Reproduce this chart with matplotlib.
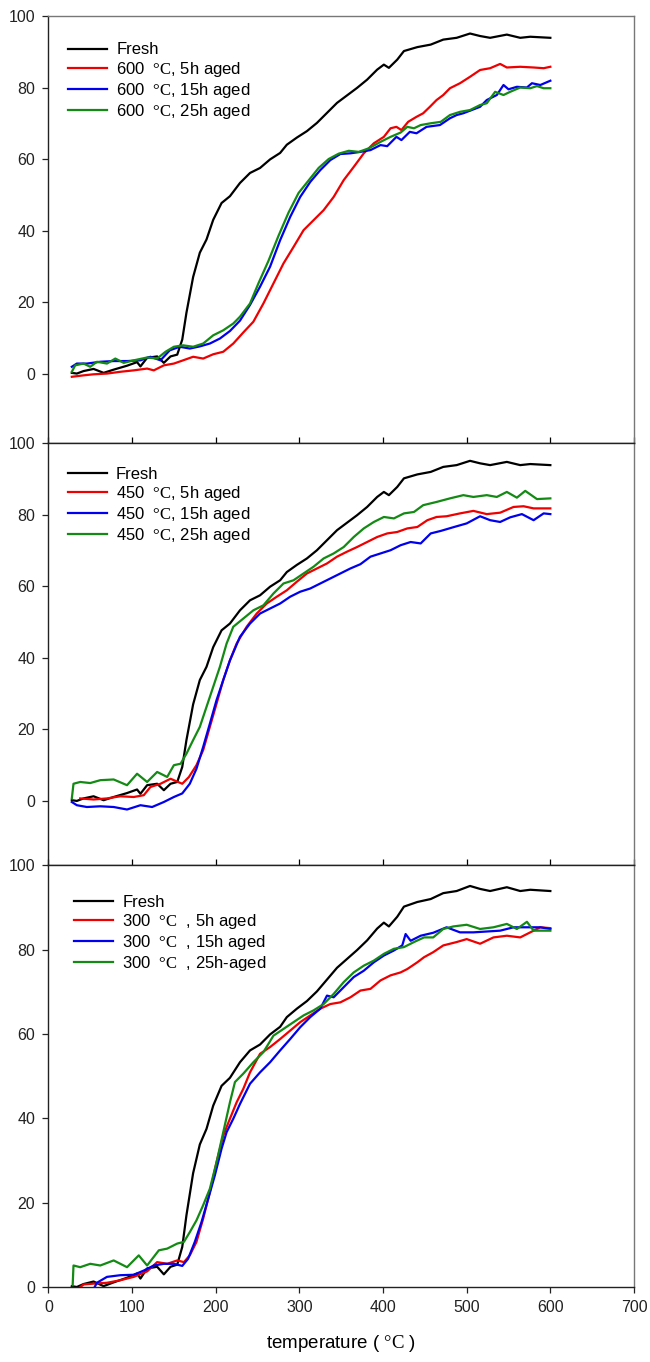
import matplotlib.pyplot as plt

plt.rcParams["font.family"] = ["Liberation Sans", "DejaVu Sans"]
plt.rcParams["mathtext.fontset"] = "custom"
plt.rcParams["mathtext.rm"] = "Liberation Serif"

# Fresh catalyst (same run shown in every panel)
fresh_t = [28, 34, 42, 54, 66, 78, 94, 106, 110, 118, 130, 138, 146, 154, 160, 165, 173, 181, 189, 197,
           207, 217, 229, 241, 253, 265, 277, 285, 297, 309, 321, 333, 345, 357, 369, 381, 393, 401, 407, 417,
           425, 441, 457, 472, 488, 504, 516, 528, 548, 564, 576, 600]
fresh_v = [0.2, 0, 0.7, 1.3, 0.2, 1.1, 2.2, 3.2, 2.0, 4.4, 4.8, 3.0, 4.8, 5.3, 9.5, 17, 27, 33.8, 37.5, 43,
           47.7, 49.6, 53.3, 56.1, 57.5, 59.9, 61.7, 64, 66, 67.8, 70.1, 72.9, 75.7, 77.8, 79.9, 82.2, 85, 86.4, 85.5, 87.8,
           90.2, 91.3, 92, 93.4, 93.9, 95.1, 94.4, 93.9, 94.8, 93.9, 94.2, 93.9]

# 600 C aged
red600_t = [28, 42, 54, 70, 86, 102, 118, 126, 138, 150, 161, 173, 185, 197, 209, 221, 233, 245, 257, 269,
            281, 293, 305, 317, 329, 341, 353, 365, 377, 389, 401, 409, 416, 422, 430, 440, 448, 456, 464, 472,
            480, 492, 504, 516, 528, 540, 548, 564, 580, 592, 600]
red600_v = [-0.9, -0.5, -0.2, 0, 0.5, 0.9, 1.4, 0.9, 2.3, 2.8, 3.7, 4.7, 4.2, 5.4, 6.1, 8.4, 11.5, 14.5, 19.6, 25.2,
            30.8, 35.4, 40.1, 42.9, 45.7, 49.4, 54.1, 57.8, 61.6, 64.4, 66.2, 68.6, 69, 68.1, 70.4, 71.8, 72.8, 74.6, 76.5, 77.9,
            79.8, 81.2, 83, 84.9, 85.4, 86.6, 85.6, 85.8, 85.6, 85.4, 85.8]
blue600_t = [28, 34, 46, 62, 78, 94, 110, 122, 134, 145, 157, 169, 181, 193, 205, 217, 229, 241, 253, 265,
             277, 289, 301, 313, 325, 337, 349, 361, 373, 385, 397, 405, 416, 422, 432, 440, 452, 468, 480, 488,
             496, 516, 524, 536, 544, 550, 560, 572, 578, 588, 600]
blue600_v = [1.9, 2.8, 2.8, 3.3, 3.5, 3.5, 3.7, 4.7, 3.7, 6.5, 7.5, 7.0, 7.6, 8.4, 9.8, 11.9, 14.8, 19.2, 24.3, 29.9,
             37.3, 43.8, 49.4, 53.6, 56.9, 59.7, 61.4, 61.6, 62, 62.5, 63.9, 63.6, 66.2, 65.3, 67.6, 67.2, 69, 69.5, 71.4, 72.3,
             72.8, 74.6, 76.5, 77.9, 80.7, 79.5, 80.2, 80, 81.2, 80.7, 81.9]
green600_t = [28, 32, 42, 50, 58, 70, 80, 90, 102, 118, 130, 140, 150, 161, 173, 185, 197, 209, 221, 229,
              241, 251, 263, 275, 287, 299, 311, 323, 335, 347, 359, 371, 383, 397, 409, 421, 429, 437, 445, 457,
              469, 480, 492, 504, 516, 524, 534, 544, 552, 564, 576, 584, 592, 600]
green600_v = [0.5, 2.3, 2.8, 1.9, 3.3, 2.8, 4.2, 3.0, 3.7, 4.5, 4.2, 6.1, 7.5, 7.9, 7.5, 8.4, 10.7, 12.1, 14, 15.9,
              19.6, 25.2, 31.5, 38.5, 45, 50.5, 54, 57.5, 60, 61.5, 62.3, 62, 63, 64.8, 66.2, 67.4, 69, 68.6, 69.5, 70,
              70.4, 72.3, 73.2, 73.7, 75.1, 75.6, 78.8, 77.9, 78.8, 80, 79.8, 80.4, 79.8, 79.8]

# 450 C aged
red450_t = [38, 54, 70, 86, 102, 114, 122, 134, 146, 160, 168, 177, 185, 193, 201, 209, 217, 225, 237, 249,
            261, 273, 285, 297, 309, 321, 333, 345, 357, 369, 381, 393, 405, 417, 429, 441, 453, 464, 476, 492,
            508, 524, 540, 556, 568, 580, 600]
red450_v = [0.7, 0.4, 0.7, 1.3, 1.1, 1.6, 3.9, 4.8, 6.2, 4.8, 6.7, 10, 14.2, 20.7, 27.2, 33.8, 39.3, 44, 48.7, 52.4,
            55.2, 57.1, 58.9, 61.3, 63.6, 65, 66.4, 68.3, 69.7, 71, 72.4, 73.8, 74.8, 75.2, 76.2, 76.6, 78.5, 79.4, 79.6, 80.4,
            81.1, 80.2, 80.6, 82.2, 82.4, 81.8, 81.8]
blue450_t = [28, 34, 46, 62, 78, 94, 110, 124, 138, 150, 160, 169, 177, 185, 193, 201, 209, 217, 229, 241,
             253, 265, 277, 289, 301, 313, 325, 337, 349, 361, 373, 385, 397, 409, 421, 433, 445, 457, 469, 485,
             500, 516, 528, 540, 552, 566, 580, 592, 600]
blue450_v = [-0.3, -1.2, -1.7, -1.5, -1.7, -2.4, -1.2, -1.7, -0.3, 1.1, 2.1, 4.8, 9, 15.1, 21.6, 28.2, 33.8, 39.3, 45.9, 49.6,
             52.4, 53.8, 55.2, 57.1, 58.5, 59.4, 60.8, 62.2, 63.6, 65, 66.2, 68.3, 69.2, 70.1, 71.5, 72.4, 72, 74.8, 75.5, 76.6,
             77.6, 79.6, 78.5, 78, 79.3, 80.2, 78.5, 80.4, 80.2]
green450_t = [28, 30, 38, 50, 62, 78, 94, 106, 118, 130, 142, 150, 158, 165, 173, 181, 189, 197, 205, 213,
              221, 233, 245, 257, 269, 281, 293, 305, 317, 329, 341, 353, 365, 377, 389, 401, 413, 425, 437, 448,
              464, 480, 496, 508, 524, 536, 548, 560, 570, 584, 600]
green450_v = [0.7, 4.8, 5.3, 5, 5.8, 6, 4.4, 7.6, 5.3, 8.1, 6.7, 10, 10.4, 13.2, 17, 20.7, 26.3, 31.9, 37.5, 44,
              48.7, 51, 53.3, 54.7, 58, 60.8, 61.7, 63.6, 65.5, 67.8, 69.2, 71, 73.8, 76.2, 78, 79.4, 79, 80.4, 80.8, 82.7,
              83.6, 84.6, 85.5, 85, 85.5, 85, 86.4, 84.8, 86.7, 84.4, 84.6]

# 300 C aged
red300_t = [32, 42, 54, 70, 86, 102, 118, 130, 142, 154, 162, 169, 177, 185, 193, 201, 209, 217, 225, 233,
            241, 253, 265, 277, 289, 301, 313, 325, 337, 349, 361, 373, 385, 397, 409, 421, 429, 441, 449, 460,
            472, 488, 500, 516, 532, 548, 564, 576, 588, 600]
red300_v = [-1, 0.6, 0.8, 1, 1.6, 2.4, 3.7, 5.9, 5.5, 6.3, 5.9, 7.5, 10.7, 16.2, 22.5, 29.6, 35.9, 39.9, 43.8, 47,
            50.9, 55.3, 56.9, 58.8, 60.8, 62.8, 64.4, 66, 67.1, 67.5, 68.7, 70.3, 70.7, 72.7, 73.9, 74.6, 75.4, 77, 78.2, 79.4,
            81, 81.8, 82.5, 81.4, 82.9, 83.3, 82.9, 84.1, 85.3, 85.1]
blue300_t = [30, 42, 54, 58, 70, 86, 102, 114, 126, 138, 150, 160, 167, 175, 183, 191, 199, 207, 213, 221,
             229, 241, 253, 265, 277, 289, 301, 313, 325, 333, 341, 353, 365, 377, 389, 401, 413, 423, 427, 433,
             445, 460, 476, 492, 508, 524, 540, 556, 572, 588, 600]
blue300_v = [-3, -2, -0.5, 1, 2.4, 2.8, 2.9, 3.9, 5.1, 5.5, 5.5, 5, 6.7, 10.7, 15.4, 20.9, 26.5, 32.8, 36.7, 39.9,
             43.4, 48.2, 50.9, 53.3, 56.1, 58.8, 61.6, 64, 66, 69.1, 68.7, 71.1, 73.5, 75, 77, 78.6, 79.8, 81, 83.7, 82.1,
             83.3, 84, 85.3, 84.1, 84.1, 84.3, 84.5, 85.3, 85.3, 85.3, 84.9]
green300_t = [29, 30, 38, 50, 62, 78, 94, 108, 118, 132, 142, 154, 162, 169, 177, 185, 193, 201, 209, 217,
              223, 233, 245, 257, 269, 281, 293, 305, 317, 329, 341, 353, 365, 377, 389, 401, 413, 425, 437, 449,
              460, 472, 484, 500, 516, 532, 548, 560, 572, 580, 600]
green300_v = [0.4, 5.1, 4.7, 5.5, 5.1, 6.3, 4.7, 7.5, 5.1, 8.7, 9.1, 10.3, 10.7, 13, 15.8, 19.4, 23.3, 29.6, 36.7, 43.8,
              48.6, 50.6, 53.3, 55.7, 59.6, 61.2, 62.8, 64.4, 65.6, 67.1, 69.5, 72.3, 74.6, 76.2, 77.4, 79, 80.2, 80.6, 81.8, 82.9,
              82.9, 84.9, 85.5, 85.9, 84.9, 85.3, 86.1, 84.9, 86.6, 84.5, 84.5]

deg = r"$\mathrm{°C}$"
labels600 = ["Fresh", f"600  {deg}, 5h aged", f"600  {deg}, 15h aged", f"600  {deg}, 25h aged"]
labels450 = ["Fresh", f"450  {deg}, 5h aged", f"450  {deg}, 15h aged", f"450  {deg}, 25h aged"]
labels300 = ["Fresh", f"300  {deg}  , 5h aged", f"300  {deg}  , 15h aged", f"300  {deg}  , 25h-aged"]
colors = ["black", "#ee0000", "#0000ee", "#138a13"]

fig = plt.figure(figsize=(6.5, 13.62), dpi=100)
H = 1362.0
left, width = 48.4 / 650, 585.6 / 650
ax_top = fig.add_axes([left, 1 - 443.3 / H, width, 427.3 / H])
ax_mid = fig.add_axes([left, 1 - 865.3 / H, width, 422.0 / H])
ax_bot = fig.add_axes([left, 1 - 1287.0 / H, width, 421.7 / H])

panels = [
    (ax_top, (-19.5, 100), [(fresh_t, fresh_v), (red600_t, red600_v), (blue600_t, blue600_v), (green600_t, green600_v)],
     labels600, (0.034, 0.938)),
    (ax_mid, (-18, 100), [(fresh_t, fresh_v), (red450_t, red450_v), (blue450_t, blue450_v), (green450_t, green450_v)],
     labels450, (0.033, 0.945)),
    (ax_bot, (0, 100), [(fresh_t, fresh_v), (red300_t, red300_v), (blue300_t, blue300_v), (green300_t, green300_v)],
     labels300, (0.044, 0.93)),
]

for ax, ylim, series, labels, anchor in panels:
    for (t, v), c, lab in zip(series, colors, labels):
        ax.plot(t, v, color=c, lw=1.6, label=lab, solid_joinstyle="round")
    ax.set_xlim(0, 700)
    ax.set_ylim(*ylim)
    ax.set_yticks([0, 20, 40, 60, 80, 100])
    ax.set_xticks(range(0, 701, 100))
    for side in ["left", "bottom"]:
        ax.spines[side].set_linewidth(1.0)
        ax.spines[side].set_color("#222222")
    for side in ["top", "right"]:
        ax.spines[side].set_linewidth(1.0)
        ax.spines[side].set_color("#777777")
    ax.tick_params(axis="y", direction="out", length=4.5, width=0.9, labelsize=11.5, pad=5, colors="#222222")
    ax.legend(loc="upper left", bbox_to_anchor=anchor, frameon=False, fontsize=12,
              borderpad=0, borderaxespad=0, handlelength=2.35, handletextpad=0.54, labelspacing=0.13)

for ax in (ax_top, ax_mid):
    ax.tick_params(axis="x", direction="in", length=4.5, width=0.9, labelbottom=False)
ax_mid.spines["top"].set_color("#222222")
ax_bot.spines["top"].set_color("#222222")
ax_bot.tick_params(axis="x", direction="out", length=4.5, width=0.9, labelsize=11.5, pad=5, colors="#222222")
ax_bot.set_xlabel(f"temperature ( {deg} )", fontsize=13.5, labelpad=13)

fig.savefig("out.png", dpi=100)
